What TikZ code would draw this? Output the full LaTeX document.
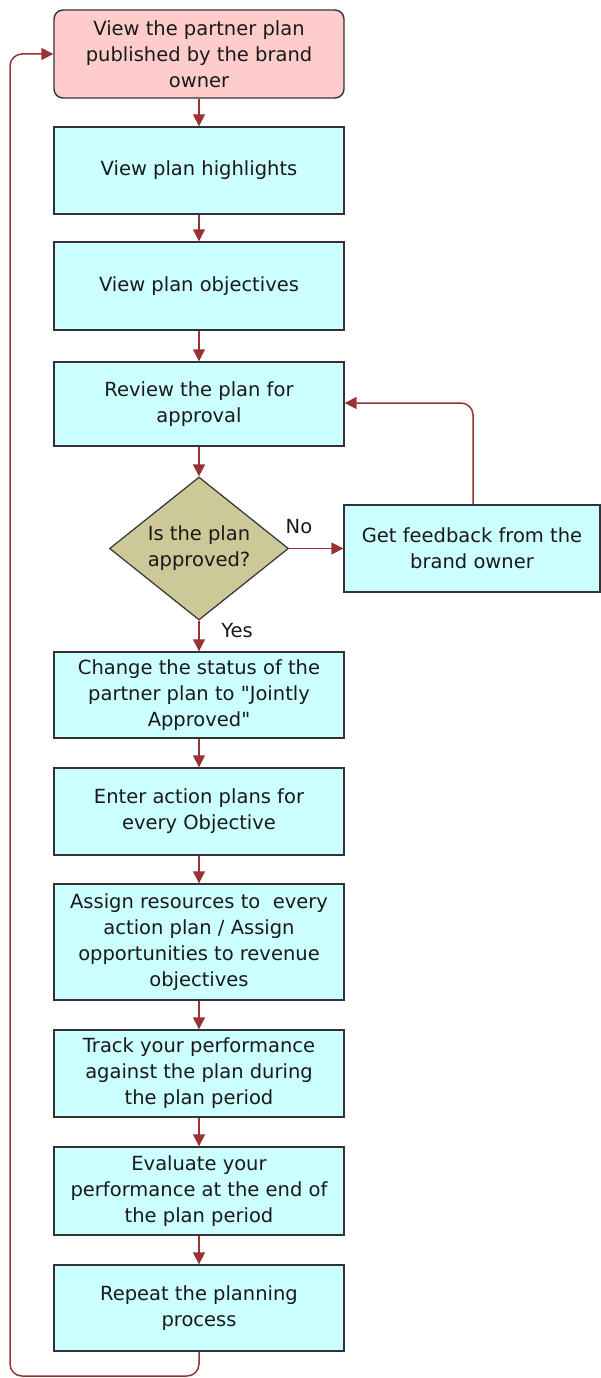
\documentclass[tikz,border=0pt]{standalone}
\usepackage{fontspec}
\setmainfont{DejaVu Sans}[Ligatures=TeXOff]
\usetikzlibrary{shapes.geometric,arrows.meta}
\definecolor{boxfill}{HTML}{CCFFFF}
\definecolor{startfill}{HTML}{FFCCCC}
\definecolor{decfill}{HTML}{CCC898}
\definecolor{arr}{HTML}{993333}
\definecolor{edge}{HTML}{333333}
\begin{document}
\begin{tikzpicture}[x=1pt,y=-1pt,
  txt/.style={font=\fontsize{19.5}{26}\selectfont, align=center, text=black!90},
  stepbox/.style={draw=edge, line width=1.4pt, fill=boxfill, minimum width=290pt, inner sep=0pt, txt},
  startbox/.style={stepbox, fill=startfill, rounded corners=9pt},
  decision/.style={draw=edge, line width=1.2pt, fill=decfill, diamond, inner sep=0pt, minimum width=179pt, minimum height=143pt},
  flow/.style={draw=arr, line width=1.5pt, -{Triangle[length=12pt,width=12pt]}},
  loopflow/.style={flow, rounded corners=12pt}]
\useasboundingbox (0,0) rectangle (600,1378);
\node[startbox, minimum height=88pt] (s) at (199,54) {View the partner plan\\published by the brand\\owner};
\node[stepbox, minimum height=87pt] (b2) at (199,170.5) {View plan highlights};
\node[stepbox, minimum height=88pt] (b3) at (199,286) {View plan objectives};
\node[stepbox, minimum height=84pt] (b4) at (199,404) {Review the plan for\\approval};
\node[decision] (d) at (199,548.5) {};
\node[txt] (dt) at (d.center) {Is the plan\\approved?};
\node[stepbox, minimum width=256pt, minimum height=87pt] (fb) at (472,548.5) {Get feedback from the\\brand owner};
\node[stepbox, minimum height=86pt] (b5) at (199,695) {Change the status of the\\partner plan to "Jointly\\Approved"};
\node[stepbox, minimum height=87pt] (b6) at (199,811.5) {Enter action plans for\\every Objective};
\node[stepbox, minimum height=116pt] (b7) at (199,942) {Assign resources to\ \ every\\action plan / Assign\\opportunities to revenue\\objectives};
\node[stepbox, minimum height=87pt] (b8) at (199,1073.5) {Track your performance\\against the plan during\\the plan period};
\node[stepbox, minimum height=88pt] (b9) at (199,1191) {Evaluate your\\performance at the end of\\the plan period};
\node[stepbox, minimum height=86pt] (b10) at (199,1308) {Repeat the planning\\process};
\node[txt, anchor=center] (no) at (299,527) {No};
\node[txt, anchor=center] (yes) at (237,631) {Yes};
\draw[flow] (s) -- (b2);
\draw[flow] (b2) -- (b3);
\draw[flow] (b3) -- (b4);
\draw[flow] (b4) -- (d.north);
\draw[flow] (d.east) -- (fb.west);
\draw[flow] (d.south) -- (b5);
\draw[loopflow] (fb.north -| 473,0) |- (b4.east |- 0,403);
\draw[flow] (b5) -- (b6);
\draw[flow] (b6) -- (b7);
\draw[flow] (b7) -- (b8);
\draw[flow] (b8) -- (b9);
\draw[flow] (b9) -- (b10);
\coordinate (lb) at (10,1376);
\draw[loopflow] (b10.south) |- (lb) |- (s.west);
\end{tikzpicture}
\end{document}
